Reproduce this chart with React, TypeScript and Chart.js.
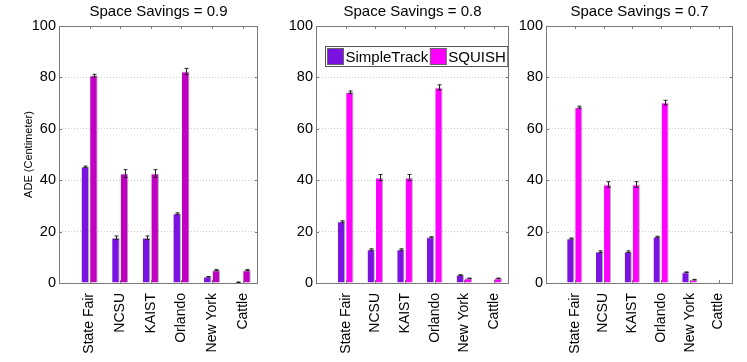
import React, { useEffect, useRef } from "react";
import { Chart, registerables } from "chart.js";
Chart.register(...registerables);

const categories = ["State Fair", "NCSU", "KAIST", "Orlando", "New York", "Cattle"];
const seriesNames = ["SimpleTrack", "SQUISH"];
const titles = ["Space Savings = 0.9", "Space Savings = 0.8", "Space Savings = 0.7"];
const yAxisTitle = "ADE (Centimeter)";

const simpleTrack09 = [45.2, 17.6, 17.6, 27.0, 2.4, 0.3];
const squish09 = [80.7, 42.6, 42.6, 82.3, 5.0, 5.0];
const simpleTrackErr09 = [0.3, 0.7, 0.7, 0.3, 0.1, 0.1];
const squishErr09 = [0.5, 1.5, 1.5, 1.2, 0.2, 0.2];

const simpleTrack08 = [23.9, 13.0, 13.0, 17.8, 3.1, 0.2];
const squish08 = [74.2, 41.0, 41.0, 76.1, 1.8, 1.8];
const simpleTrackErr08 = [0.3, 0.3, 0.3, 0.2, 0.1, 0.0];
const squishErr08 = [0.5, 1.2, 1.2, 1.0, 0.1, 0.1];

const simpleTrack07 = [17.3, 12.2, 12.2, 18.0, 4.2, 0.0];
const squish07 = [68.4, 38.3, 38.3, 70.2, 1.3, 0.0];
const simpleTrackErr07 = [0.2, 0.3, 0.3, 0.2, 0.1, 0.0];
const squishErr07 = [0.4, 1.1, 1.1, 0.9, 0.1, 0.0];

const purple = "#7a12e0";
const magentaDark = "#c000c0";
const magenta = "#ff00ff";
const frameColor = "#7a7a7a";
const FONT = "'Liberation Sans', Arial, Helvetica, sans-serif";

const panels = [
  { title: titles[0], a: simpleTrack09, b: squish09, ea: simpleTrackErr09, eb: squishErr09, colorB: magentaDark, left: 0, width: 262, yWidth: 59, padRight: 4, yTitle: true, legend: false },
  { title: titles[1], a: simpleTrack08, b: squish08, ea: simpleTrackErr08, eb: squishErr08, colorB: magenta, left: 262, width: 251, yWidth: 54, padRight: 4, yTitle: false, legend: true },
  { title: titles[2], a: simpleTrack07, b: squish07, ea: simpleTrackErr07, eb: squishErr07, colorB: magenta, left: 513, width: 234, yWidth: 33, padRight: 14, yTitle: false, legend: false },
];

const errorBarPlugin = {
  id: "errorBars",
  afterDatasetsDraw(chart: any) {
    const ctx = chart.ctx;
    const yScale = chart.scales.y;
    ctx.save();
    ctx.strokeStyle = "#222";
    ctx.lineWidth = 1;
    chart.data.datasets.forEach((ds: any, i: number) => {
      const meta = chart.getDatasetMeta(i);
      meta.data.forEach((bar: any, j: number) => {
        const e = ds.errors[j];
        const v = ds.data[j].y;
        if (!e) return;
        const x = Math.round(bar.x) + 0.5;
        const y1 = yScale.getPixelForValue(v - e);
        const y2 = yScale.getPixelForValue(v + e);
        ctx.beginPath();
        ctx.moveTo(x, y1);
        ctx.lineTo(x, y2);
        ctx.moveTo(x - 2, y1);
        ctx.lineTo(x + 2, y1);
        ctx.moveTo(x - 2, y2);
        ctx.lineTo(x + 2, y2);
        ctx.stroke();
      });
    });
    ctx.restore();
  },
};

const framePlugin = {
  id: "frame",
  afterDatasetsDraw(chart: any) {
    const { ctx, chartArea } = chart;
    const { left, right, top, bottom } = chartArea;
    const xs = chart.scales.x;
    const ys = chart.scales.y;
    ctx.save();
    ctx.strokeStyle = frameColor;
    ctx.lineWidth = 1;
    ctx.strokeRect(Math.round(left) + 0.5, Math.round(top) + 0.5, Math.round(right - left) - 1, Math.round(bottom - top));
    ctx.beginPath();
    xs.ticks.forEach((t: any) => {
      const x = Math.round(xs.getPixelForValue(t.value)) + 0.5;
      ctx.moveTo(x, top);
      ctx.lineTo(x, top + 3);
      ctx.moveTo(x, bottom);
      ctx.lineTo(x, bottom - 3);
    });
    ys.ticks.forEach((t: any) => {
      const y = Math.round(ys.getPixelForValue(t.value)) + 0.5;
      ctx.moveTo(left, y);
      ctx.lineTo(left + 3, y);
      ctx.moveTo(right, y);
      ctx.lineTo(right - 3, y);
    });
    ctx.stroke();
    ctx.restore();
  },
};

const legendPlugin = {
  id: "boxLegend",
  afterDraw(chart: any, _args: any, opts: any) {
    if (!opts || !opts.show) return;
    const { ctx, chartArea } = chart;
    const x0 = Math.round(chartArea.left) + 9.5;
    const y0 = Math.round(chartArea.top) + 20.5;
    ctx.save();
    ctx.font = `15px ${FONT}`;
    ctx.textBaseline = "middle";
    const items = chart.data.datasets.map((ds: any) => ({ label: ds.label, color: ds.backgroundColor }));
    let w = 2;
    items.forEach((it: any) => {
      w += 16 + 2 + ctx.measureText(it.label).width + 2;
    });
    const h = 20;
    ctx.fillStyle = "#fff";
    ctx.fillRect(x0, y0, w, h);
    ctx.strokeStyle = "#555";
    ctx.lineWidth = 1;
    ctx.strokeRect(x0, y0, w, h);
    let x = x0 + 2;
    items.forEach((it: any) => {
      ctx.fillStyle = it.color;
      ctx.fillRect(x, y0 + 2, 16, 16);
      ctx.strokeStyle = "#666";
      ctx.strokeRect(x, y0 + 2, 16, 16);
      x += 18;
      ctx.fillStyle = "#000";
      ctx.fillText(it.label, x, y0 + h / 2 + 1);
      x += ctx.measureText(it.label).width + 2;
    });
    ctx.restore();
  },
};

function Panel({ p }: { p: any }) {
  const ref = useRef<HTMLCanvasElement | null>(null);
  useEffect(() => {
    if (!ref.current) return;
    const mk = (vals: number[]) => vals.map((v, i) => ({ x: i + 1, y: v }));
    const chart = new Chart(ref.current, {
      type: "bar",
      data: {
        datasets: [
          { label: seriesNames[0], data: mk(p.a), errors: p.ea, backgroundColor: purple, borderColor: "rgba(0,0,0,0.3)", borderWidth: { top: 1, right: 1, left: 0, bottom: 0 } } as any,
          { label: seriesNames[1], data: mk(p.b), errors: p.eb, backgroundColor: p.colorB, borderColor: "rgba(0,0,0,0.3)", borderWidth: { top: 1, right: 1, left: 0, bottom: 0 } } as any,
        ],
      },
      options: {
        responsive: false,
        animation: false,
        events: [],
        layout: { padding: { left: 0, right: p.padRight, top: 0, bottom: 0 } },
        datasets: { bar: { barPercentage: 0.88, categoryPercentage: 0.56 } },
        plugins: {
          legend: { display: false },
          tooltip: { enabled: false },
          title: {
            display: true,
            text: p.title,
            fullSize: false,
            color: "#000",
            font: { family: FONT, size: 15, weight: "normal" },
            padding: { top: 3, bottom: 5 },
          },
          boxLegend: { show: p.legend },
        } as any,
        scales: {
          x: {
            type: "linear",
            offset: false,
            min: 0,
            max: 6.5,
            afterBuildTicks: (s: any) => {
              s.ticks = categories.map((_, i) => ({ value: i + 1 }));
            },
            afterFit: (s: any) => {
              s.height = 79;
              s.paddingLeft = 0;
              s.paddingRight = 0;
            },
            grid: { display: false, offset: false },
            border: { display: false },
            ticks: {
              autoSkip: false,
              minRotation: 90,
              maxRotation: 90,
              padding: 2,
              color: "#000",
              font: { family: FONT, size: 14 },
              callback: (v: any) => categories[Math.round(v) - 1] ?? "",
            },
          },
          y: {
            min: 0,
            max: 100,
            afterFit: (s: any) => {
              s.width = p.yWidth;
            },
            grid: {
              drawTicks: false,
              color: (c: any) => (c.tick && c.tick.value > 0 && c.tick.value < 100 ? "#c8c8c8" : "rgba(0,0,0,0)"),
            },
            border: { display: false, dash: [1, 2] },
            ticks: {
              stepSize: 20,
              padding: 3,
              color: "#000",
              font: { family: FONT, size: 14.5 },
            },
            title: {
              display: p.yTitle,
              text: yAxisTitle,
              color: "#000",
              font: { family: FONT, size: 11 },
              padding: { top: 22, bottom: 0 },
            },
          },
        },
      } as any,
      plugins: [errorBarPlugin, framePlugin, legendPlugin],
    });
    return () => chart.destroy();
  }, [p]);
  return (
    <canvas
      ref={ref}
      width={p.width}
      height={362}
      style={{ position: "absolute", left: p.left, top: 0, width: p.width, height: 362 }}
    />
  );
}

export default function App() {
  return (
    <div style={{ position: "fixed", left: 0, top: 0, width: 747, height: 362, background: "#fff", overflow: "hidden" }}>
      {panels.map((p, i) => (
        <Panel key={i} p={p} />
      ))}
    </div>
  );
}
